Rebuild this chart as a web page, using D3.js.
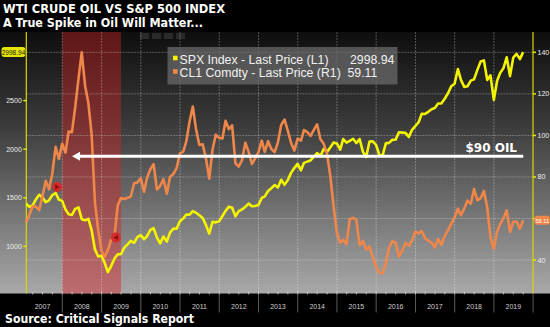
<!DOCTYPE html>
<html><head><meta charset="utf-8">
<script src="https://cdn.jsdelivr.net/npm/d3@7"></script>
<style>html,body{margin:0;padding:0;background:#000;}svg{display:block;}</style>
</head><body>
<svg id="c" width="550" height="327"></svg>
<script>
// ---------- data ----------
const startYear = 2007, startMonth = 0; // Jan 2007 month-end closes
const spxValues = [
1438.24,1406.82,1420.86,1482.37,1530.62,1503.35,1455.27,1473.99,1526.75,1549.38,1481.14,1468.36,
1378.55,1330.63,1322.70,1385.59,1400.38,1280.00,1267.38,1282.83,1166.36,968.75,896.24,903.25,
825.88,735.09,797.87,872.81,919.14,919.32,987.48,1020.62,1057.08,1036.19,1095.63,1115.10,
1073.87,1104.49,1169.43,1186.69,1089.41,1030.71,1101.60,1049.33,1141.20,1183.26,1180.55,1257.64,
1286.12,1327.22,1325.83,1363.61,1345.20,1320.64,1292.28,1218.89,1131.42,1253.30,1246.96,1257.60,
1312.41,1365.68,1408.47,1397.91,1310.33,1362.16,1379.32,1406.58,1440.67,1412.16,1416.18,1426.19,
1498.11,1514.68,1569.19,1597.57,1630.74,1606.28,1685.73,1632.97,1681.55,1756.54,1805.81,1848.36,
1782.59,1859.45,1872.34,1883.95,1923.57,1960.23,1930.67,2003.37,1972.29,2018.05,2067.56,2058.90,
1994.99,2104.50,2067.89,2085.51,2107.39,2063.11,2103.84,1972.18,1920.03,2079.36,2080.41,2043.94,
1940.24,1932.23,2059.74,2065.30,2096.95,2098.86,2173.60,2170.95,2168.27,2126.15,2198.81,2238.83,
2278.87,2363.64,2362.72,2384.20,2411.80,2423.41,2470.30,2471.65,2519.36,2575.26,2647.58,2673.61,
2823.81,2713.83,2640.87,2648.05,2705.27,2718.37,2816.29,2901.52,2913.98,2711.74,2760.17,2506.85,
2704.10,2784.49,2834.40,2945.83,2752.06,2941.76,2980.38,2926.46,2998.94
];
const wtiValues = [
58.14,61.79,65.87,65.71,64.01,70.68,78.21,74.04,81.66,94.53,88.71,95.98,
91.75,101.84,101.58,113.46,127.35,140.00,124.08,115.46,100.64,67.81,54.43,44.60,
41.68,44.76,49.66,51.12,66.31,69.89,69.45,69.96,70.61,77.00,77.28,79.36,
72.89,79.66,83.76,86.15,73.97,75.63,78.95,71.92,79.97,81.43,84.11,91.38,
92.19,96.97,106.72,113.93,102.70,95.42,95.70,88.81,79.20,93.19,100.36,98.83,
98.48,107.07,103.02,104.87,86.53,84.96,88.06,96.47,92.19,86.24,88.91,91.82,
97.49,92.05,97.23,93.46,91.97,96.56,105.03,107.65,102.33,96.38,92.72,98.42,
97.49,102.59,101.58,99.74,102.71,105.37,98.17,95.96,91.16,80.54,66.15,53.27,
48.24,49.76,47.60,59.63,60.30,59.47,47.12,49.20,45.09,46.59,41.65,37.04,
33.62,33.75,38.34,45.92,49.10,48.33,41.60,44.70,48.24,46.86,49.44,53.72,
52.81,54.01,50.60,49.33,48.32,46.04,50.17,47.23,51.67,54.38,57.40,60.42,
64.73,61.64,64.94,68.57,67.04,74.15,68.76,69.80,73.25,65.31,50.93,45.41,
53.79,57.22,60.14,63.91,53.50,58.47,58.58,55.10,59.11
];
const yearLabels = ["2007","2008","2009","2010","2011","2012","2013","2014","2015","2016","2017","2018","2019"];
const leftTicks = [1000,1500,2000,2500];
const rightTicks = [40,60,80,100,120,140];
const rightTickLabels = [40,80,100,120,140]; // 60 is hidden behind the last-value tag
const seriesNames = ["SPX Index - Last Price (L1)","CL1 Comdty - Last Price (R1)"];
const lastValues = ["2998.94","59.11"];
const recession = [new Date(2008,0,1), new Date(2009,6,1)];
const oilLevel = 90;
const oilLabel = "$90 OIL";
const events = [{date:new Date(2007,10,15), v:1611, dir:"right"},{date:new Date(2009,4,15), v:1092, dir:"left"}];
const title1 = "WTI CRUDE OIL VS S&P 500 INDEX";
const title2 = "A True Spike in Oil Will Matter...";
const source = "Source: Critical Signals Report";

// ---------- layout ----------
const W=550,H=327;
const L=26.3,R=533,T=32,B=293.5;
const svg=d3.select("#c");
const dates = spxValues.map((_,i)=>new Date(startYear, startMonth+i+1, 0));
const x=d3.scaleTime().domain([new Date(2007,0,31), new Date(2019,11,31)]).range([L,R]);
const yL=d3.scaleLinear().domain([515,3206]).range([B,T]);
const yR=d3.scaleLinear().domain([23.9,149.8]).range([B,T]);

const defs=svg.append("defs");
const g1=defs.append("linearGradient").attr("id","bg").attr("x1",0).attr("x2",0).attr("y1",0).attr("y2",1);
g1.append("stop").attr("offset","0%").attr("stop-color","#0e0e0e");
g1.append("stop").attr("offset","35%").attr("stop-color","#3a3a3a");
g1.append("stop").attr("offset","100%").attr("stop-color","#a9a9a9");
const g2=defs.append("linearGradient").attr("id","rb").attr("x1",0).attr("x2",0).attr("y1",0).attr("y2",1);
g2.append("stop").attr("offset","0%").attr("stop-color","#c02020").attr("stop-opacity",0.45);
g2.append("stop").attr("offset","100%").attr("stop-color","#d03030").attr("stop-opacity",0.5);

svg.append("rect").attr("width",W).attr("height",H).attr("fill","#000");
svg.append("rect").attr("x",0).attr("y",T).attr("width",W).attr("height",B-T).attr("fill","url(#bg)");

// toolbar icons
[140,152,164,176].forEach(px=>svg.append("rect").attr("x",px).attr("y",T+1).attr("width",9).attr("height",6).attr("fill","#2a2a2a"));

// recession band
svg.append("rect").attr("x",x(recession[0])).attr("y",T).attr("width",x(recession[1])-x(recession[0])).attr("height",B-T).attr("fill","url(#rb)");

// grid
const years=d3.range(2008,2020).map(y=>new Date(y,0,1));
svg.append("g").selectAll("line").data(years).join("line")
  .attr("x1",d=>x(d)).attr("x2",d=>x(d)).attr("y1",T).attr("y2",B)
  .attr("stroke","#ffffff").attr("stroke-opacity",0.28).attr("stroke-width",1).attr("stroke-dasharray","2,1");
svg.append("g").selectAll("line").data(rightTicks).join("line")
  .attr("x1",L).attr("x2",R).attr("y1",d=>yR(d)).attr("y2",d=>yR(d))
  .attr("stroke","#ffffff").attr("stroke-opacity",0.28).attr("stroke-width",1).attr("stroke-dasharray","2,1");

// bottom axis
const axisG=svg.append("g");
const seps=d3.range(2008,2021).map(y=>new Date(y,0,1));
axisG.selectAll("line.sep").data(seps).join("line").attr("class","sep")
  .attr("x1",d=>x(d)).attr("x2",d=>x(d)).attr("y1",B).attr("y2",B+19).attr("stroke","#5a5a5a").attr("stroke-width",1);
const quarters=d3.timeMonth.range(new Date(2007,3,1), new Date(2020,0,1), 3);
axisG.selectAll("line.q").data(quarters).join("line").attr("class","q")
  .attr("x1",d=>x(d)).attr("x2",d=>x(d)).attr("y1",B-2).attr("y2",B+1).attr("stroke","#d0d0d0").attr("stroke-width",0.8);
axisG.selectAll("text").data(yearLabels).join("text")
  .attr("x",d=>x(new Date(+d,6,1))).attr("y",B+15)
  .attr("text-anchor","middle").attr("fill","#cfcfcf")
  .style("font-family","'Liberation Sans',Arial,sans-serif").style("font-size","7px").text(d=>d);

// left axis
svg.append("line").attr("x1",L).attr("x2",L).attr("y1",T).attr("y2",B).attr("stroke","#d8d800").attr("stroke-width",1.2);
const lg=svg.append("g");
lg.selectAll("line").data(leftTicks).join("line").attr("x1",L-3).attr("x2",L).attr("y1",d=>yL(d)).attr("y2",d=>yL(d)).attr("stroke","#e8e800").attr("stroke-width",1.5);
lg.selectAll("text").data(leftTicks).join("text").attr("x",L-4.5).attr("y",d=>yL(d)+2.5).attr("text-anchor","end")
  .attr("fill","#eeeeee").style("font-family","'Liberation Sans',Arial,sans-serif").style("font-size","7px").text(d=>d);

// right axis
svg.append("line").attr("x1",R).attr("x2",R).attr("y1",T).attr("y2",B).attr("stroke","#d8d800").attr("stroke-width",1.2);
const rg=svg.append("g");
rg.selectAll("line").data(rightTicks).join("line").attr("x1",R).attr("x2",R+3).attr("y1",d=>yR(d)).attr("y2",d=>yR(d)).attr("stroke","#e8e800").attr("stroke-width",1.5);
rg.selectAll("text").data(rightTickLabels).join("text").attr("x",R+4.5).attr("y",d=>yR(d)+2.5)
  .attr("fill","#eeeeee").style("font-family","'Liberation Sans',Arial,sans-serif").style("font-size","7px").text(d=>d);

// lines
const lineL=d3.line().x((d,i)=>x(dates[i])).y(d=>yL(d));
const lineR=d3.line().x((d,i)=>x(dates[i])).y(d=>yR(d));
svg.append("path").datum(spxValues).attr("d",lineL).attr("fill","none").attr("stroke","#f4f400").attr("stroke-width",2.6).attr("stroke-linejoin","round");
svg.append("path").datum(wtiValues).attr("d",lineR).attr("fill","none").attr("stroke","#f0874a").attr("stroke-width",2.6).attr("stroke-linejoin","round");

// event markers
events.forEach(e=>{
  const cx=x(e.date), cy=yL(e.v);
  svg.append("circle").attr("cx",cx).attr("cy",cy).attr("r",5).attr("fill","#d42a2a");
  const s=e.dir==="right"?1:-1;
  svg.append("path").attr("d",`M${cx-2*s},${cy-2.5}L${cx+2.5*s},${cy}L${cx-2*s},${cy+2.5}Z`).attr("fill","#8a1010");
});

// last value labels
const lastL=yL(spxValues[spxValues.length-1]);
svg.append("rect").attr("x",1.5).attr("y",lastL-5).attr("width",24).attr("height",10).attr("rx",3).attr("fill","#e6e600");
svg.append("text").attr("x",13.5).attr("y",lastL+2.5).attr("text-anchor","middle").attr("fill","#222")
  .style("font-family","'Liberation Sans',Arial,sans-serif").style("font-size","6.5px").text(lastValues[0]);
const lastR=yR(wtiValues[wtiValues.length-1]);
svg.append("rect").attr("x",R+1.5).attr("y",lastR-4.5).attr("width",W-R-1.5).attr("height",9).attr("rx",3).attr("fill","#f0874a");
svg.append("text").attr("x",R+2.5).attr("y",lastR+2.2).attr("fill","#fff")
  .style("font-family","'Liberation Sans',Arial,sans-serif").style("font-size","5.6px").text(lastValues[1]);

// $90 oil arrow
const yo=yR(oilLevel);
const ax0=x(new Date(2008,3,1));
svg.append("line").attr("x1",ax0+4).attr("x2",x(new Date(2019,9,1))).attr("y1",yo).attr("y2",yo).attr("stroke","#fff").attr("stroke-width",3);
svg.append("path").attr("d",`M${ax0},${yo}L${ax0+8},${yo-4.5}L${ax0+8},${yo+4.5}Z`).attr("fill","#fff");
svg.append("text").attr("x",517).attr("y",yo-4.5).attr("text-anchor","end").attr("fill","#fff")
  .style("font-family","'DejaVu Sans',Verdana,sans-serif").style("font-weight","bold").style("font-size","12px").text(oilLabel);

// legend
const leg=svg.append("g");
leg.append("rect").attr("x",167.5).attr("y",47).attr("width",230).attr("height",37.5).attr("fill","#6a6a6a").attr("fill-opacity",0.75);
const legColors=["#f4f400","#f0874a"];
seriesNames.forEach((n,i)=>{
  const by=63.7+i*13.5;
  leg.append("rect").attr("x",173).attr("y",by-8).attr("width",4.6).attr("height",4.6).attr("fill",legColors[i]);
  leg.append("text").attr("x",179.5).attr("y",by).attr("fill","#f2f2f2")
    .style("font-family","'Liberation Sans',Arial,sans-serif").style("font-size","12.3px").text(n);
  leg.append("text").attr("x",i===0?350:347.5).attr("y",by).attr("fill","#f2f2f2")
    .style("font-family","'Liberation Sans',Arial,sans-serif").style("font-size","12.3px").text(lastValues[i]);
});

// titles
function fitText(t,w){t.attr("textLength",w).attr("lengthAdjust","spacingAndGlyphs");}
const t1=svg.append("text").attr("x",3).attr("y",12.5).attr("fill","#fff")
  .style("font-family","'DejaVu Sans',Verdana,sans-serif").style("font-weight","bold").style("font-size","12px").text(title1);
fitText(t1,222);
const t2=svg.append("text").attr("x",3).attr("y",26.5).attr("fill","#fff")
  .style("font-family","'DejaVu Sans',Verdana,sans-serif").style("font-weight","bold").style("font-size","12px").text(title2);
fitText(t2,200);
const t3=svg.append("text").attr("x",5).attr("y",323).attr("fill","#fff")
  .style("font-family","'DejaVu Sans',Verdana,sans-serif").style("font-weight","bold").style("font-size","12.5px").text(source);
fitText(t3,189);
</script>
</body></html>
